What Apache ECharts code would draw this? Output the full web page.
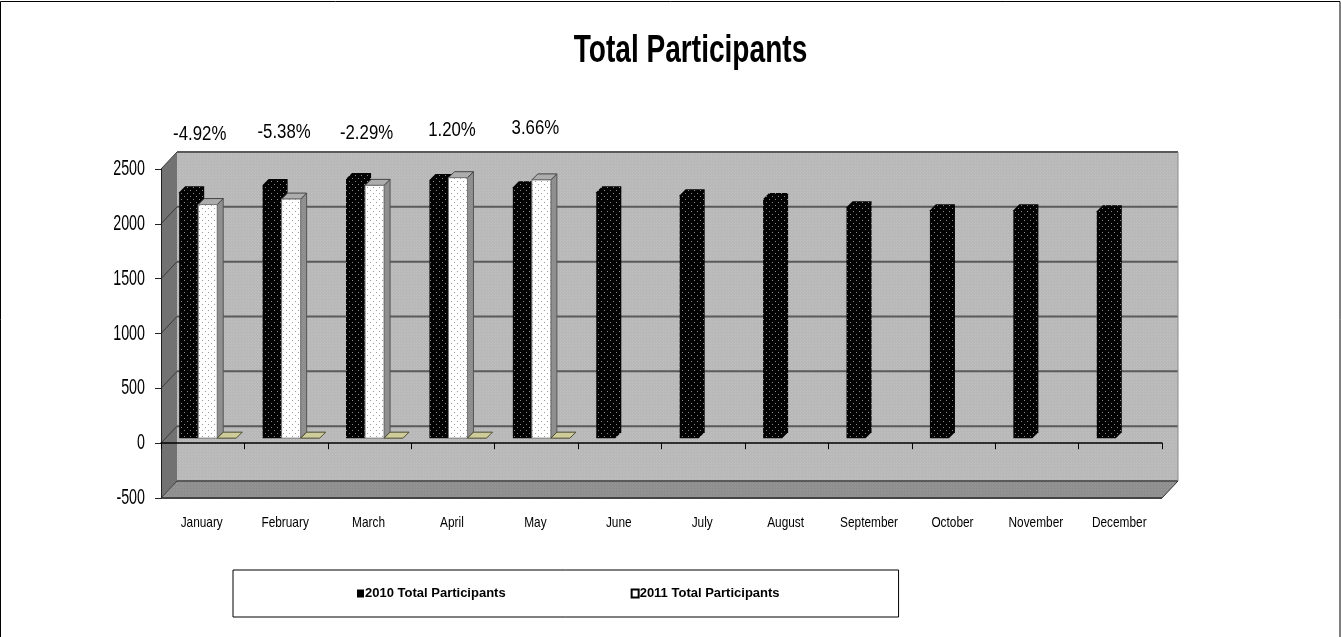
<!DOCTYPE html>
<html><head><meta charset="utf-8">
<style>html,body{margin:0;padding:0;background:#fff}#c{width:1341px;height:637px}</style>
<script src="https://cdn.jsdelivr.net/npm/echarts@6/dist/echarts.min.js"></script>
</head><body><div id="c"></div>
<script>
const months = ['January','February','March','April','May','June','July','August','September','October','November','December'];
const total2010 = [2243,2308,2363,2353,2289,2243,2216,2180,2106,2079,2079,2070];
const total2011 = [2130,2180,2305,2375,2355];
const pctChange = [-4.92,-5.38,-2.29,1.20,3.66];
const yTicks = [-500,0,500,1000,1500,2000,2500];

const FONT = '"Liberation Sans",Arial,sans-serif';
const labelNudge = [[-3,2],[-2,0],[-3,1],[-1,-2],[-1,-4]];

function pattern(size, bg, dots, dotColor){
  const c = document.createElement('canvas'); c.width = c.height = size;
  const g = c.getContext('2d'); g.fillStyle = bg; g.fillRect(0,0,size,size);
  g.fillStyle = dotColor; dots.forEach(d => g.fillRect(d[0],d[1],1,1));
  return {image:c, repeat:'repeat'};
}
const blackFill = pattern(6,'#020202',[[1,1],[4,4]],'#8a8a8a');
const whiteFill = pattern(6,'#ffffff',[[1,1],[4,4]],'#9a9a9a');
const wallFill  = pattern(3,'#b8b8b8',[[0,0],[2,1]],'#c0c0c0');
const floorFill = pattern(3,'#8e8e8e',[[0,0],[2,1]],'#989898');

const DX = 16, DY = 17;      // depth of the chart box
const BDX = 5, BDY = 5;      // bars stand this far into the box
const BD = 6;                // bar depth
const BAR = 0.228;           // bar width as share of a category

function poly(pts, fill, stroke, lw){
  return {type:'polygon', shape:{points:pts}, style:{fill:fill, stroke:stroke||null, lineWidth:lw||0}};
}
function seg(x1,y1,x2,y2,c,w){
  return {type:'line', shape:{x1,y1,x2,y2}, style:{stroke:c, lineWidth:w}};
}
// Arial squeezed horizontally, standing in for the reference's narrow face
function squeezed(x, y, text, size, sx, align, weight, color){
  return {type:'text', x:x, y:y, scaleX:sx, scaleY:1, silent:true, style:{
    x:0, y:0, text:text, font:(weight||'normal')+' '+size+'px '+FONT, fill:color||'#000',
    textAlign:align||'center', textVerticalAlign:'middle'}};
}

function renderWalls(params, api){
  const cs = params.coordSys, L = cs.x, R = cs.x + cs.width;
  const yT = api.coord([0,2500])[1], yB = api.coord([0,-500])[1];
  const kids = [
    poly([[L+DX,yT-DY],[R+DX,yT-DY],[R+DX,yB-DY],[L+DX,yB-DY]], wallFill),
    poly([[L,yT],[L+DX,yT-DY],[L+DX,yB-DY],[L,yB]], '#727272'),
    poly([[L,yB],[L+DX,yB-DY],[R+DX,yB-DY],[R,yB]], floorFill)
  ];
  yTicks.forEach(v => {
    const y = api.coord([0,v])[1];
    kids.push(seg(L+DX,y-DY,R+DX,y-DY,'#5a5a5a',2));
    kids.push(seg(L,y,L+DX,y-DY,'#3a3a3a',1));
    kids.push(squeezed(L-16,y,String(v),22,0.65,'right'));
  });
  months.forEach((m,i) => {
    kids.push(squeezed(api.coord([i,0])[0]-1, yB+25, m, 15, 0.79));
  });
  kids.push(seg(R+DX,yT-DY,R+DX,yB-DY,'#8a8a8a',1));
  kids.push(seg(R,yB,R+DX,yB-DY,'#333',1));
  kids.push(seg(L,yB,R,yB,'#444',2));
  return {type:'group', children:kids};
}

function barGeom(api, slot){
  const i = api.value(0), v = api.value(1);
  const w = api.size([1,0])[0] * BAR;
  const c = api.coord([i,v]), z = api.coord([i,0]);
  const x0 = c[0] + BDX + (slot - 0.5) * w;
  return {x0, x1:x0+w, top:c[1]-BDY, base:z[1]-BDY, w};
}
function render2010(params, api){
  const b = barGeom(api,-1);
  return {type:'polygon', shape:{points:[
    [b.x0,b.base],[b.x0,b.top],[b.x0+BD,b.top-BD],[b.x1+BD,b.top-BD],[b.x1+BD,b.base-BD],[b.x1,b.base]
  ]}, style:{fill:blackFill}};
}
function render2011(params, api){
  const b = barGeom(api,0);
  return {type:'group', children:[
    poly([[b.x1,b.top],[b.x1+BD,b.top-BD],[b.x1+BD,b.base-BD],[b.x1,b.base]],'#8f8f8f','#555',1),
    poly([[b.x0,b.top],[b.x0+BD,b.top-BD],[b.x1+BD,b.top-BD],[b.x1,b.top]],'#adadad','#444',1),
    {type:'rect', shape:{x:b.x0,y:b.top,width:b.w,height:b.base-b.top}, style:{fill:whiteFill, stroke:'#777', lineWidth:1}}
  ]};
}
function renderPct(params, api){
  const b = barGeom(api,1), i = api.value(0);
  const n = labelNudge[i];
  return {type:'group', children:[
    poly([[b.x0,b.base],[b.x0+BD,b.base-BD],[b.x1+BD,b.base-BD],[b.x1,b.base]],'#cfcc9c','#4a4a30',1),
    squeezed(api.coord([i,0])[0]+n[0], api.coord([i,2500])[1]-37+n[1], api.value(1).toFixed(2)+'%', 20, 0.84)
  ]};
}

const chart = echarts.init(document.getElementById('c'), null, {renderer:'canvas'});
chart.setOption({
  animation:false,
  backgroundColor:'#fff',
  graphic:[
    {type:'rect', silent:true, z:100, shape:{x:0.5,y:1.5,width:1339.5,height:640},
     style:{fill:null, stroke:'#000', lineWidth:1}},
    {type:'text', silent:true, z:100, x:690.5, y:51, scaleX:0.72, scaleY:1,
     style:{x:0,y:0,text:'Total Participants', font:'bold 39px '+FONT, fill:'#000',
       textAlign:'center', textVerticalAlign:'middle'}}
  ],
  legend:{
    data:['2010 Total Participants','2011 Total Participants'],
    left:233, top:570, orient:'horizontal', icon:'rect',
    itemWidth:7, itemHeight:8, itemGap:125,
    padding:[17,119,17,124],
    borderColor:'#000', borderWidth:1, backgroundColor:'#fff',
    selectedMode:false,
    textStyle:{fontFamily:FONT, fontWeight:'bold', fontSize:13, color:'#000', padding:[0,0,0,-4]}
  },
  grid:{left:161, right:179, top:169, bottom:139, containLabel:false},
  xAxis:{type:'category', data:months, position:'bottom',
     axisLine:{show:true, onZero:true, lineStyle:{color:'#000',width:1.5}},
     axisTick:{show:true, length:6, lineStyle:{color:'#000'}, interval:0},
     axisLabel:{show:false}},
  yAxis:{type:'value', min:-500, max:2500, interval:500,
    axisLine:{show:true, onZero:false, lineStyle:{color:'#222',width:1}},
    axisTick:{show:true, length:6, lineStyle:{color:'#222'}},
    splitLine:{show:false},
    axisLabel:{show:false}},
  series:[
    {type:'custom', name:'walls', z:-1, silent:true, clip:false, coordinateSystem:'cartesian2d',
     data:[[0,0]], renderItem:renderWalls},
    {type:'custom', name:'2010 Total Participants', z:3, clip:false,
     itemStyle:{color:'#000'},
     encode:{x:0,y:1}, data:total2010.map((v,i)=>[i,v]), renderItem:render2010},
    {type:'custom', name:'2011 Total Participants', z:4, clip:false,
     itemStyle:{color:'#fff',borderColor:'#000',borderWidth:1},
     encode:{x:0,y:1}, data:total2011.map((v,i)=>[i,v]), renderItem:render2011},
    {type:'custom', name:'% change', z:5, clip:false,
     encode:{x:0,y:1}, data:pctChange.map((v,i)=>[i,v]), renderItem:renderPct}
  ]
});
</script></body></html>
